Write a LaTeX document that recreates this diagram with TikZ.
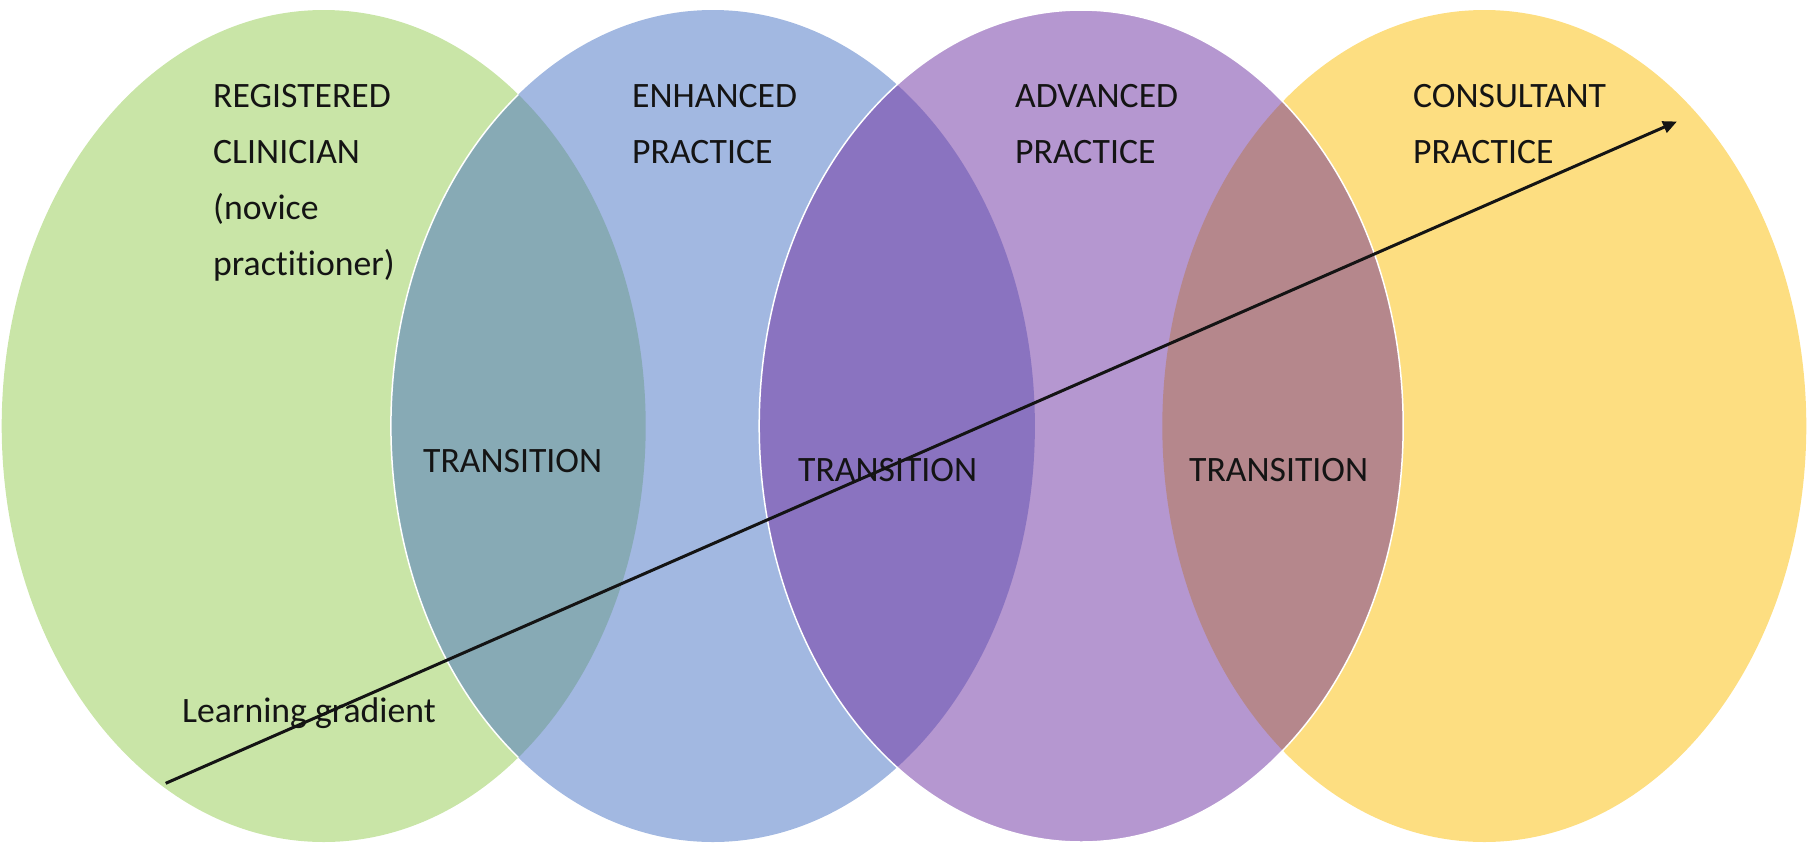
\documentclass[tikz,border=0pt]{standalone}
\usepackage{fontspec}
\setmainfont[Ligatures=NoCommon]{Carlito}
\usetikzlibrary{arrows.meta}
\definecolor{cgreen}{HTML}{C9E5A7}
\definecolor{cblue}{HTML}{A2B8E1}
\definecolor{cpurple}{HTML}{B597D0}
\definecolor{cyellow}{HTML}{FDDE81}
\definecolor{cteal}{HTML}{87AAB5}
\definecolor{cdpurple}{HTML}{8A73C0}
\definecolor{cmauve}{HTML}{B5878C}
\definecolor{ctext}{HTML}{141414}
\begin{document}
\begin{tikzpicture}[x=1pt,y=-1pt,
  lbl/.style={inner sep=0pt, anchor=base west, text=ctext, font=\fontsize{35.7}{42}\selectfont},
  ell/.style={x radius=322, y radius=416}]
\useasboundingbox (0,0) rectangle (1816,844);
% base fills
\fill[cgreen]  (323.7,426) ellipse [ell];
\fill[cblue]   (712.9,426) ellipse [ell];
\fill[cyellow] (1484.3,426) ellipse [ell];
\fill[cpurple] (1081.2,426) ellipse [ell];
% overlaps
\begin{scope}
  \clip (323.7,426) ellipse [ell];
  \fill[cteal] (712.9,426) ellipse [ell];
  \draw[white, line width=1.5] (712.9,426) ellipse [ell];
\end{scope}
\begin{scope}
  \clip (712.9,426) ellipse [ell];
  \fill[cdpurple] (1081.2,426) ellipse [ell];
\end{scope}
\begin{scope}
  \clip (1484.3,426) ellipse [ell];
  \fill[cmauve] (1081.2,426) ellipse [ell];
\end{scope}
\draw[white, line width=1.5] (1081.2,426) ellipse [ell];
% labels
\node[lbl] (reg1) at (213,107) {REGISTERED};
\node[lbl] (reg2) at (213,163) {CLINICIAN};
\node[lbl] (reg3) at (213,219) {(novice};
\node[lbl] (reg4) at (213,275) {practitioner)};
\node[lbl] (enh1) at (632,107) {ENHANCED};
\node[lbl] (enh2) at (632,163) {PRACTICE};
\node[lbl] (adv1) at (1015,107) {ADVANCED};
\node[lbl] (adv2) at (1015,163) {PRACTICE};
\node[lbl] (con1) at (1413,107) {CONSULTANT};
\node[lbl] (con2) at (1413,163) {PRACTICE};
\node[lbl] (tr1) at (423,472) {TRANSITION};
\node[lbl] (tr2) at (798,481) {TRANSITION};
\node[lbl] (tr3) at (1189,481) {TRANSITION};
\node[lbl] (learn) at (182,722) {Learning gradient};
% arrow
\coordinate (gstart) at (165.7,783.3);
\coordinate (gend) at (1677,121.5);
\draw[line width=3, ctext, -{Triangle[length=14, width=12]}] (gstart) -- (gend);
\end{tikzpicture}
\end{document}
